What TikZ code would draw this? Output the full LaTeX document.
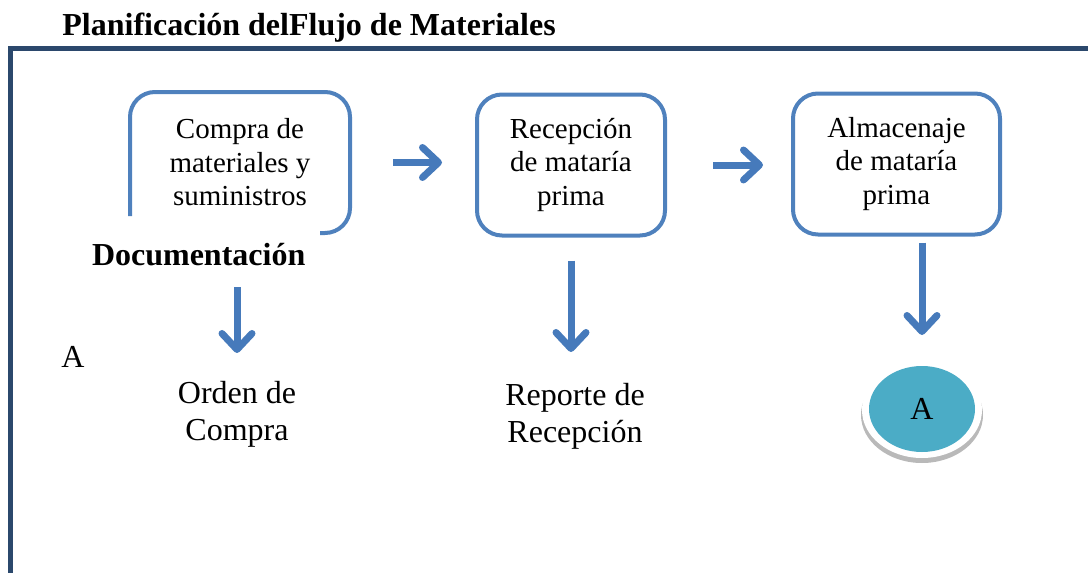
\documentclass[tikz,border=0pt]{standalone}
\usepackage{fontspec}
\setmainfont{Liberation Serif}
\usetikzlibrary{arrows.meta,shapes.geometric}
\definecolor{framenavy}{RGB}{43,72,108}
\definecolor{boxblue}{RGB}{79,129,189}
\definecolor{arrowblue}{RGB}{70,122,187}
\definecolor{tealA}{RGB}{75,172,198}
\begin{document}
\begin{tikzpicture}[x=0.5pt,y=-0.5pt]
\tikzstyle{box}=[draw=boxblue,line width=2pt,rounded corners=12.5pt,minimum height=70.5pt,inner sep=0,outer sep=0,align=center,font=\fontsize{14.5}{16.75}\selectfont]
\tikzstyle{label}=[inner sep=0,outer sep=0,align=center,font=\fontsize{16}{18.5}\selectfont]
\tikzstyle{flow}=[draw=arrowblue,line width=3.5pt,-{Straight Barb[length=8pt,width=15pt,round]}]
\useasboundingbox (0,0) rectangle (1088,573);
\draw[framenavy,line width=2.6pt] (10.5,580) -- (10.5,48.5) -- (1095,48.5);
\node[anchor=base west,inner sep=0,font=\bfseries\fontsize{16}{19}\selectfont] (titulo) at (62,35) {Planificación delFlujo de Materiales};
% boxes
\node[box,draw=none,minimum width=110pt] (compra) at (240,162.5) {Compra de\\materiales y\\suministros};
\draw[draw=boxblue,line width=2pt,rounded corners=12.5pt] (compra.south west) ++(0,-17) -- (compra.north west) -- (compra.north east) -- (compra.south east) -- ++(-30,0);
\node[box,minimum width=94pt] (recepcion) at (571,165) {Recepción\\de matar\'ia\\prima};
\node[box,minimum width=103.5pt] (almacen) at (896.5,164) {Almacenaje\\de matar\'ia\\prima};
% documents
\node[anchor=base west,inner sep=0,outer sep=0,font=\bfseries\fontsize{16}{19}\selectfont] (doc) at (92,265) {Documentación};
\node[anchor=base west,inner sep=0,font=\fontsize{16}{19}\selectfont] (letraA) at (61,367) {A};
\node[label] (orden) at (237,414) {Orden de\\Compra};
\node[label] (reporte) at (575,416) {Reporte de\\Recepción};
\fill[gray!55] (922,415) ellipse [x radius=61,y radius=48];
\fill[white] (922,410) ellipse [x radius=60,y radius=48];
\node[ellipse,fill=tealA,minimum width=53pt,minimum height=43pt,inner sep=0,outer sep=0,font=\fontsize{16}{19}\selectfont] (conA) at (922,409) {A};
\draw[flow,shorten <=21.5pt,shorten >=17.5pt] (compra.east) -- (compra.east -| recepcion.west);
\draw[flow,shorten <=24pt,shorten >=15pt] (recepcion.east) -- (recepcion.east -| almacen.west);
\draw[flow,shorten <=11pt,shorten >=14pt] (orden.north |- doc.south) -- (orden.north);
\draw[flow,shorten <=12.5pt,shorten >=15.5pt] (recepcion.south) -- (recepcion.south |- reporte.north);
\draw[flow,shorten <=4pt,shorten >=15.5pt] (conA.north |- almacen.south) -- (conA.north);
\end{tikzpicture}
\end{document}
